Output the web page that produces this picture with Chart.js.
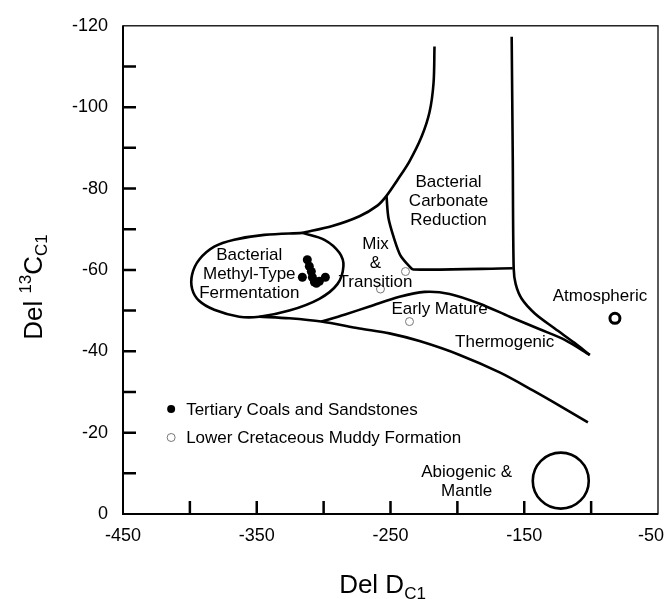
<!DOCTYPE html>
<html>
<head>
<meta charset="utf-8">
<script src="https://cdn.jsdelivr.net/npm/chart.js@4.4.0/dist/chart.umd.min.js"></script>
<style>
  html, body { margin: 0; padding: 0; background: #fff; }
  #wrap { width: 666px; height: 599px; }
</style>
</head>
<body>
<div id="wrap"><canvas id="chart" width="666" height="599"></canvas></div>
<script>
const FONT = "'Liberation Sans', Arial, Helvetica, sans-serif";

// tick labels
const xLabels = [-450, -350, -250, -150, -50];
const yLabels = [-120, -100, -80, -60, -40, -20, 0];

// samples (Del D, Del 13C)
const tertiaryCoals = [
    [-312.2, -62.5], [-310.7, -60.9], [-309.2, -59.6], [-308.4, -58.2], [-306.9, -57.0],
    [-315.9, -58.2], [-303.2, -57.2], [-298.7, -58.2], [-305.4, -56.7]
];
const muddyFormation = [[-238.8, -59.6], [-257.5, -55.3], [-235.8, -47.3]];
const atmosphericGas = [[-82.2, -48.1]];
const abiogenicMantle = [[-122.7, -8.2]];

// field boundaries
const methylField = [
    [-315.9, -69.1], [-299.4, -67.4], [-288.2, -64.2], [-285.2, -60.9], [-289.7, -56.5],
    [-303.2, -52.9], [-325.7, -50.0], [-348.1, -48.5], [-363.1, -48.5], [-381.8, -50.2],
    [-393.1, -52.4], [-398.3, -55.3], [-398.3, -58.9], [-393.1, -62.5], [-381.8, -65.7],
    [-366.9, -67.4], [-344.4, -68.6], [-315.9, -69.1]
];
const upperField = [
    [-315.9, -69.1], [-293.5, -70.8], [-273.2, -73.2], [-259.8, -75.8], [-253.0, -78.2],
    [-244.8, -82.1], [-235.8, -86.7], [-226.8, -92.7], [-220.8, -98.8], [-217.8, -106.0],
    [-217.1, -114.9]
];
const mixTransition = [
    [-253.0, -78.2], [-251.5, -72.7], [-247.0, -67.4], [-242.5, -63.5], [-236.5, -61.1],
    [-232.8, -60.1], [-158.6, -60.4]
];
const carbonateField = [
    [-159.4, -117.3], [-158.6, -87.9], [-157.9, -60.4], [-156.4, -56.5], [-151.9, -52.9],
    [-142.1, -49.3], [-127.2, -45.6], [-112.2, -42.0], [-101.0, -39.1]
];
const earlyMature = [
    [-301.7, -47.3], [-284.5, -49.0], [-265.7, -51.0], [-243.3, -53.4], [-224.5, -54.6],
    [-205.8, -54.1], [-183.3, -51.7], [-160.9, -48.5], [-138.4, -45.4], [-119.7, -42.8],
    [-101.0, -39.1]
];
const thermogenicBase = [
    [-348.1, -48.5], [-325.7, -48.1], [-301.7, -47.3], [-273.2, -45.6], [-250.8, -44.4],
    [-228.3, -42.5], [-198.3, -39.1], [-168.4, -34.8], [-143.6, -30.4], [-123.4, -26.6],
    [-102.4, -22.5]
];

// annotations
const fieldNames = [
    { lines: ['Bacterial', 'Methyl-Type', 'Fermentation'], at: [-355.6, -58.9] },
    { lines: ['Mix', '&', 'Transition'], at: [-261.2, -61.6] },
    { lines: ['Bacterial', 'Carbonate', 'Reduction'], at: [-206.6, -76.8] },
    { lines: ['Early Mature'], at: [-213.3, -50.2] },
    { lines: ['Thermogenic'], at: [-164.6, -42.3] },
    { lines: ['Atmospheric'], at: [-93.4, -53.4] },
    { lines: ['Abiogenic &', 'Mantle'], at: [-193.1, -8.0] }
];
const legendItems = [
    { label: 'Tertiary Coals and Sandstones', filled: true, at: [-414, -25.8] },
    { label: 'Lower Cretaceous Muddy Formation', filled: false, at: [-414, -18.8] }
];

const toXY = arr => arr.map(p => ({ x: p[0], y: p[1] }));

function boundary(points, tension) {
    return {
        data: toXY(points),
        showLine: true,
        borderColor: '#000',
        borderWidth: 2.6,
        pointRadius: 0,
        fill: false,
        tension: tension
    };
}

// frame, inside ticks, axis titles, labels and legend
const plotDecor = {
    id: 'plotDecor',
    afterDraw(chart) {
        const { ctx, chartArea: a, scales: { x, y } } = chart;
        ctx.save();
        ctx.strokeStyle = '#000';
        ctx.fillStyle = '#000';
        ctx.lineCap = 'butt';

        // frame
        ctx.lineWidth = 1.3;
        ctx.strokeRect(a.left, a.top, a.right - a.left, a.bottom - a.top);
        ctx.lineWidth = 2;
        ctx.beginPath();
        ctx.moveTo(a.left, a.top);
        ctx.lineTo(a.left, a.bottom);
        ctx.lineTo(a.right, a.bottom);
        ctx.stroke();

        // inside tick marks
        ctx.lineWidth = 2.5;
        ctx.beginPath();
        for (let v = -400; v <= -100; v += 50) {
            const px = x.getPixelForValue(v);
            ctx.moveTo(px, a.bottom);
            ctx.lineTo(px, a.bottom - 13);
        }
        for (let v = -110; v <= -10; v += 10) {
            const py = y.getPixelForValue(v);
            ctx.moveTo(a.left, py);
            ctx.lineTo(a.left + 13, py);
        }
        ctx.stroke();

        // x tick labels
        ctx.font = '18px ' + FONT;
        ctx.textAlign = 'center';
        ctx.textBaseline = 'middle';
        xLabels.forEach(v => {
            const w = ctx.measureText(String(v)).width;
            const px = Math.min(x.getPixelForValue(v), chart.width - 2 - w / 2);
            ctx.fillText(String(v), px, a.bottom + 22);
        });

        // x title: Del D_C1
        ctx.textAlign = 'left';
        ctx.textBaseline = 'alphabetic';
        ctx.font = '26px ' + FONT;
        const mainX = 'Del D';
        const wMain = ctx.measureText(mainX).width;
        ctx.font = '17px ' + FONT;
        const wSub = ctx.measureText('C1').width;
        let sx = (a.left + a.right) / 2 - 8 - (wMain + wSub) / 2;
        ctx.font = '26px ' + FONT;
        ctx.fillText(mainX, sx, 593);
        ctx.font = '17px ' + FONT;
        ctx.fillText('C1', sx + wMain, 599);

        // y title: Del 13C_C1
        ctx.save();
        ctx.translate(42, 287);
        ctx.rotate(-Math.PI / 2);
        const parts = [
            { t: 'Del ', size: 26, dy: 0 },
            { t: '13', size: 17, dy: -11 },
            { t: 'C', size: 26, dy: 0 },
            { t: 'C1', size: 17, dy: 5 }
        ];
        let total = 0;
        parts.forEach(p => { ctx.font = p.size + 'px ' + FONT; p.w = ctx.measureText(p.t).width; total += p.w; });
        let cx = -total / 2;
        parts.forEach(p => {
            ctx.font = p.size + 'px ' + FONT;
            ctx.fillText(p.t, cx, p.dy);
            cx += p.w;
        });
        ctx.restore();

        // field names
        ctx.font = '17px ' + FONT;
        ctx.textAlign = 'center';
        ctx.textBaseline = 'middle';
        const lh = 19;
        fieldNames.forEach(f => {
            const px = x.getPixelForValue(f.at[0]);
            const py = y.getPixelForValue(f.at[1]);
            const top = py - (f.lines.length - 1) * lh / 2;
            f.lines.forEach((t, i) => ctx.fillText(t, px, top + i * lh));
        });

        // legend
        ctx.textAlign = 'left';
        legendItems.forEach(item => {
            const px = x.getPixelForValue(item.at[0]);
            const py = y.getPixelForValue(item.at[1]);
            ctx.beginPath();
            ctx.arc(px, py, 4, 0, Math.PI * 2);
            if (item.filled) {
                ctx.fillStyle = '#000';
                ctx.fill();
            } else {
                ctx.lineWidth = 1;
                ctx.strokeStyle = '#777';
                ctx.stroke();
            }
            ctx.fillStyle = '#000';
            ctx.fillText(item.label, px + 15, py + 1);
        });

        ctx.restore();
    }
};

const ctx = document.getElementById('chart').getContext('2d');
new Chart(ctx, {
    type: 'scatter',
    data: {
        datasets: [
            boundary(methylField, 0.35),
            boundary(upperField, 0.3),
            boundary(mixTransition, 0.3),
            boundary(carbonateField, 0.3),
            boundary(earlyMature, 0.3),
            boundary(thermogenicBase, 0.3),
            {
                label: 'Tertiary Coals and Sandstones',
                data: toXY(tertiaryCoals),
                pointRadius: 4.5,
                backgroundColor: '#000',
                borderColor: '#000',
                borderWidth: 0
            },
            {
                label: 'Lower Cretaceous Muddy Formation',
                data: toXY(muddyFormation),
                pointRadius: 4,
                backgroundColor: 'rgba(255,255,255,0)',
                borderColor: '#777',
                borderWidth: 1
            },
            {
                label: 'Atmospheric',
                data: toXY(atmosphericGas),
                pointRadius: 5,
                backgroundColor: '#fff',
                borderColor: '#000',
                borderWidth: 3
            },
            {
                label: 'Abiogenic & Mantle',
                data: toXY(abiogenicMantle),
                pointRadius: 28,
                backgroundColor: 'rgba(255,255,255,0)',
                borderColor: '#000',
                borderWidth: 2.6
            }
        ]
    },
    options: {
        responsive: false,
        animation: false,
        events: [],
        layout: { autoPadding: false, padding: { top: 17, right: 8, left: 0, bottom: 0 } },
        scales: {
            x: {
                type: 'linear',
                min: -450,
                max: -50,
                border: { display: false },
                grid: { display: false, drawTicks: false },
                ticks: { display: false, stepSize: 50 },
                afterFit: s => { s.height = 85; s.paddingLeft = 0; s.paddingRight = 0; }
            },
            y: {
                type: 'linear',
                min: -120,
                max: 0,
                reverse: true,
                border: { display: false },
                grid: { display: false, drawTicks: false },
                ticks: {
                    stepSize: 10,
                    autoSkip: false,
                    padding: 15,
                    color: '#000',
                    font: { family: FONT, size: 18 },
                    callback: v => yLabels.includes(v) ? String(v) : ''
                },
                afterFit: s => { s.width = 123; }
            }
        },
        plugins: {
            legend: { display: false },
            tooltip: { enabled: false }
        }
    },
    plugins: [plotDecor]
});
</script>
</body>
</html>
